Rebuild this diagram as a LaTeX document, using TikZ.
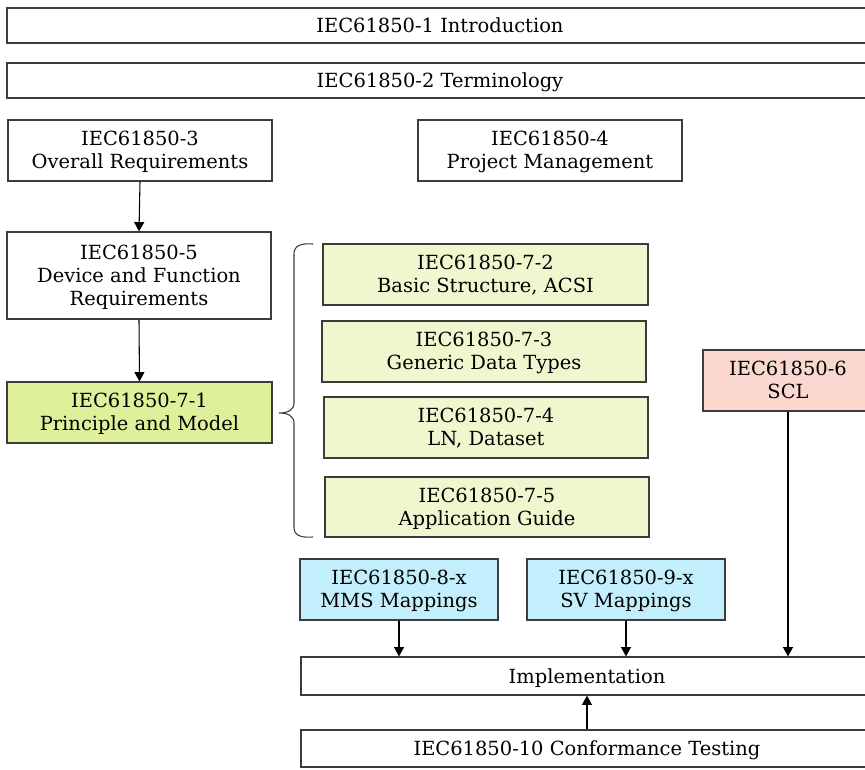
\documentclass[tikz,border=0pt]{standalone}
\usepackage{fontspec}
\setmainfont{DejaVu Serif}
\usetikzlibrary{arrows.meta}
\definecolor{edge}{HTML}{3C3C3C}
\definecolor{modelgreen}{HTML}{DFF09A}
\definecolor{partgreen}{HTML}{EFF7CF}
\definecolor{sclpink}{HTML}{FAD7CF}
\definecolor{mapblue}{HTML}{C3EFFD}
\begin{document}
\begin{tikzpicture}[x=0.75pt,y=-0.75pt,
  part/.style={draw=edge, line width=0.9pt, align=center, inner sep=0pt,
    text depth=0.5pt, font=\fontsize{14.6}{17.3}\selectfont},
  link/.style={draw=black, line width=0.8pt, -{Triangle[length=7pt,width=7.5pt]}},
  ]
\useasboundingbox (0,0) rectangle (865,769);
\clip (0,0) rectangle (865,769);

% full-width rows
\node[part, minimum width=649.5pt, minimum height=26.25pt] (intro) at (440,25.5) {IEC61850-1 Introduction};
\node[part, minimum width=649.5pt, minimum height=26.25pt] (term) at (440,80.5) {IEC61850-2 Terminology};

% general parts
\node[part, minimum width=198pt, minimum height=45.75pt] (p3) at (140,150.5) {IEC61850-3\\Overall Requirements};
\node[part, minimum width=198pt, minimum height=45.75pt] (p4) at (550,150.5) {IEC61850-4\\Project Management};
\node[part, minimum width=198pt, minimum height=65.25pt] (p5) at (139,275.5) {IEC61850-5\\Device and Function\\Requirements};
\node[part, fill=modelgreen, minimum width=198.75pt, minimum height=45.75pt] (p71) at (139.5,412.5) {IEC61850-7-1\\Principle and Model};

% part 7 series
\node[part, fill=partgreen, minimum width=243.75pt, minimum height=45.75pt] (p72) at (485.5,274.5) {IEC61850-7-2\\Basic Structure, ACSI};
\node[part, fill=partgreen, minimum width=243pt, minimum height=45.75pt] (p73) at (484,351.5) {IEC61850-7-3\\Generic Data Types};
\node[part, fill=partgreen, minimum width=243pt, minimum height=45.75pt] (p74) at (486,427.5) {IEC61850-7-4\\LN, Dataset};
\node[part, fill=partgreen, minimum width=243pt, minimum height=45pt] (p75) at (487,507) {IEC61850-7-5\\Application Guide};

% configuration language and mappings
\node[part, fill=sclpink, minimum width=127.5pt, minimum height=45.75pt] (p6) at (788,380.5) {IEC61850-6\\SCL};
\node[part, fill=mapblue, minimum width=148.5pt, minimum height=45.75pt] (p8) at (399,589.5) {IEC61850-8-x\\MMS Mappings};
\node[part, fill=mapblue, minimum width=148.5pt, minimum height=45.75pt] (p9) at (626,589.5) {IEC61850-9-x\\SV Mappings};

% implementation and testing
\node[part, minimum width=429pt, minimum height=28.5pt] (impl) at (587,676) {Implementation};
\node[part, minimum width=429pt, minimum height=27.75pt] (p10) at (587,748.5) {IEC61850-10 Conformance Testing};

% brace grouping the part 7 documents
\coordinate (btop) at (313,244);
\coordinate (bbot) at (313,537);
\coordinate (btip) at (279,413);
\draw[edge, line width=0.8pt]
  (btop) .. controls (300,243) and (294,246) .. (294,254) -- (294,403)
  .. controls (294,410) and (288,413) .. (btip)
  .. controls (288,413) and (294,416) .. (294,423) -- (294,527)
  .. controls (294,535) and (300,538) .. (bbot);

% connectors
\draw[link] (p3.south) -- (p5.north);
\draw[link] (p5.south) -- (p71.north);
\draw[link] (p8.south) -- (p8.south |- impl.north);
\draw[link] (p9.south) -- (p9.south |- impl.north);
\draw[link] (p6.south) -- (p6.south |- impl.north);
\draw[link] (p10.north) -- (impl.south);
\end{tikzpicture}
\end{document}
